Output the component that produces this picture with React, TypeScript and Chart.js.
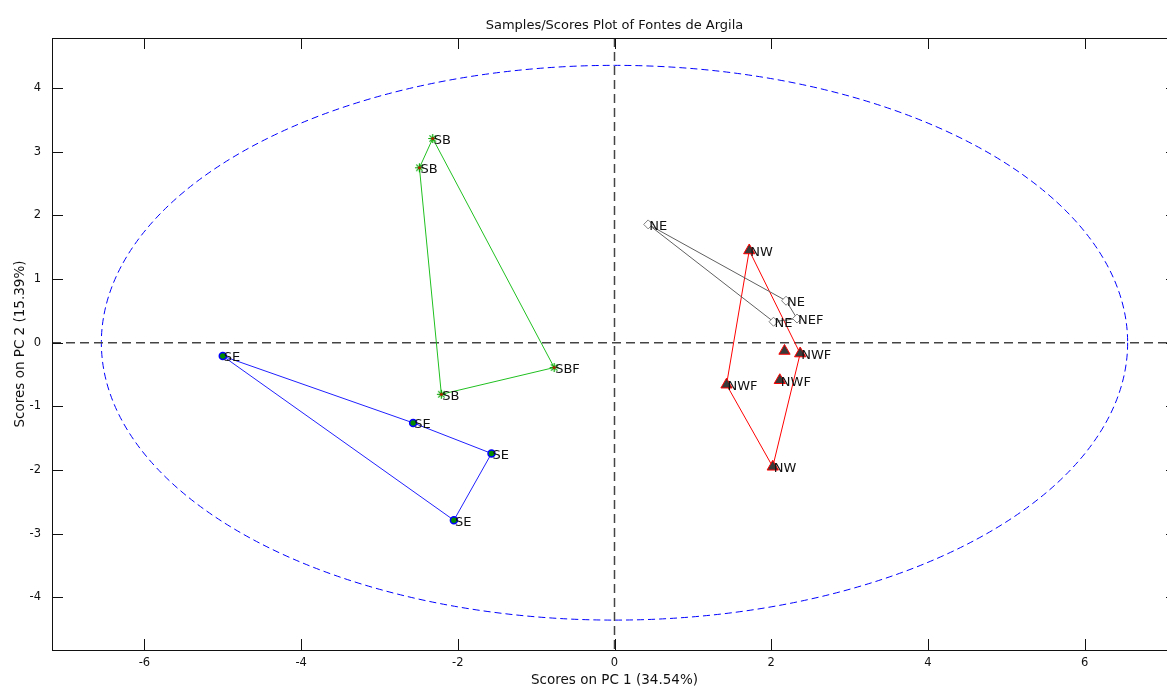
import React, { useEffect, useRef } from 'react';
import { Chart, registerables } from 'chart.js';

Chart.register(...registerables);

// Axis limits and ticks
const X_MIN = -7.18;
const X_MAX = 7.18;
const Y_MIN = -4.83;
const Y_MAX = 4.79;
const X_TICKS = [-6, -4, -2, 0, 2, 4, 6];
const Y_TICKS = [-4, -3, -2, -1, 0, 1, 2, 3, 4];

const TITLE = 'Samples/Scores Plot of Fontes de Argila';
const X_TITLE = 'Scores on PC 1 (34.54%)';
const Y_TITLE = 'Scores on PC 2 (15.39%)';

// Confidence ellipse (semi-axes in score units)
const ELLIPSE_A = 6.55;
const ELLIPSE_B = 4.36;

// SE group
const SE_X = [-5.0, -2.57, -1.57, -2.05];
const SE_Y = [-0.21, -1.26, -1.74, -2.79];
const SE_LABELS = ['SE', 'SE', 'SE', 'SE'];
const SE_HULL = [0, 1, 2, 3, 0];

// SB group
const SB_X = [-2.32, -2.49, -2.21, -0.77];
const SB_Y = [3.21, 2.75, -0.81, -0.39];
const SB_LABELS = ['SB', 'SB', 'SB', 'SBF'];
const SB_HULL = [0, 1, 2, 3, 0];

// NE group
const NE_X = [0.43, 2.19, 2.33, 2.03];
const NE_Y = [1.86, 0.66, 0.38, 0.33];
const NE_LABELS = ['NE', 'NE', 'NEF', 'NE'];
const NE_HULL = [0, 1, 2, 3, 0];

// NW group
const NW_X = [1.72, 2.37, 2.17, 2.11, 1.43, 2.02];
const NW_Y = [1.45, -0.17, -0.13, -0.59, -0.66, -1.95];
const NW_LABELS = ['NW', 'NWF', '', 'NWF', 'NWF', 'NW'];
const NW_HULL = [0, 1, 5, 4, 0];

const FONT = 'DejaVu Sans';
const VIEW_W = 1167;
const CANVAS_W = 1177;
const CANVAS_H = 690;

function pts(xs: number[], ys: number[]) {
  return xs.map((v, i) => ({ x: v, y: ys[i] }));
}
function hull(xs: number[], ys: number[], order: number[]) {
  return order.map((i) => ({ x: xs[i], y: ys[i] }));
}

function makeStar(): HTMLCanvasElement {
  const c = document.createElement('canvas');
  c.width = 11;
  c.height = 11;
  const g = c.getContext('2d')!;
  g.strokeStyle = '#00a800';
  g.lineWidth = 1.2;
  const cx = 5.5;
  const r = 4.5;
  g.beginPath();
  for (let k = 0; k < 4; k++) {
    const ang = (k * Math.PI) / 4;
    g.moveTo(cx - Math.cos(ang) * r, cx - Math.sin(ang) * r);
    g.lineTo(cx + Math.cos(ang) * r, cx + Math.sin(ang) * r);
  }
  g.stroke();
  g.fillStyle = '#b02000';
  g.beginPath();
  g.arc(cx, cx, 1.6, 0, Math.PI * 2);
  g.fill();
  return c;
}

const decor = {
  id: 'decor',
  beforeDatasetsDraw(chart: any) {
    const { ctx, chartArea: a, scales } = chart;
    const x = scales.x;
    const y = scales.y;
    ctx.save();
    ctx.beginPath();
    ctx.rect(a.left, a.top, a.right - a.left, a.bottom - a.top);
    ctx.clip();
    const cx = x.getPixelForValue(0);
    const cy = y.getPixelForValue(0);
    const rx = Math.abs(x.getPixelForValue(ELLIPSE_A) - cx);
    const ry = Math.abs(y.getPixelForValue(ELLIPSE_B) - cy);
    ctx.setLineDash([7, 4]);
    ctx.strokeStyle = '#0000ff';
    ctx.lineWidth = 1;
    ctx.beginPath();
    ctx.ellipse(cx, cy, rx, ry, 0, 0, Math.PI * 2);
    ctx.stroke();
    ctx.setLineDash([9, 5]);
    ctx.strokeStyle = '#444444';
    ctx.lineWidth = 1.5;
    ctx.beginPath();
    ctx.moveTo(cx, a.top);
    ctx.lineTo(cx, a.bottom);
    ctx.moveTo(a.left, cy);
    ctx.lineTo(a.right, cy);
    ctx.stroke();
    ctx.restore();
  },
  afterDatasetsDraw(chart: any) {
    const { ctx } = chart;
    ctx.save();
    ctx.font = `13px "${FONT}"`;
    ctx.fillStyle = '#111111';
    ctx.textAlign = 'left';
    ctx.textBaseline = 'middle';
    chart.data.datasets.forEach((ds: any, di: number) => {
      if (!ds.pointLabels) return;
      const meta = chart.getDatasetMeta(di);
      meta.data.forEach((el: any, i: number) => {
        const t = ds.pointLabels[i];
        if (t) ctx.fillText(t, el.x + 1, el.y + 2);
      });
    });
    ctx.restore();
  },
  afterDraw(chart: any) {
    const { ctx, chartArea: a, scales } = chart;
    const x = scales.x;
    const y = scales.y;
    ctx.save();
    ctx.strokeStyle = '#111111';
    ctx.lineWidth = 1;
    ctx.setLineDash([]);
    ctx.strokeRect(a.left + 0.5, a.top + 0.5, a.right - a.left, a.bottom - a.top);
    const L = 11;
    ctx.beginPath();
    X_TICKS.forEach((v) => {
      const px = Math.round(x.getPixelForValue(v)) + 0.5;
      ctx.moveTo(px, a.bottom);
      ctx.lineTo(px, a.bottom - L);
      ctx.moveTo(px, a.top);
      ctx.lineTo(px, a.top + L);
    });
    Y_TICKS.forEach((v) => {
      const py = Math.round(y.getPixelForValue(v)) + 0.5;
      ctx.moveTo(a.left, py);
      ctx.lineTo(a.left + L, py);
      ctx.moveTo(a.right, py);
      ctx.lineTo(a.right - L, py);
    });
    ctx.stroke();
    ctx.restore();
  },
};

export default function App() {
  const ref = useRef<HTMLCanvasElement | null>(null);

  useEffect(() => {
    document.body.style.overflow = 'hidden';
    const canvas = ref.current;
    if (!canvas) return;
    const star = makeStar();
    const chart = new Chart(canvas, {
      type: 'scatter',
      data: {
        datasets: [
          {
            label: 'SE',
            data: pts(SE_X, SE_Y),
            pointLabels: SE_LABELS,
            pointStyle: 'circle',
            pointRadius: 3.5,
            pointBackgroundColor: '#008a00',
            pointBorderColor: '#0000ff',
            pointBorderWidth: 1.5,
            showLine: false,
            order: 0,
          } as any,
          {
            label: 'SB',
            data: pts(SB_X, SB_Y),
            pointLabels: SB_LABELS,
            pointStyle: star,
            pointRadius: 5,
            showLine: false,
            order: 0,
          } as any,
          {
            label: 'NE',
            data: pts(NE_X, NE_Y),
            pointLabels: NE_LABELS,
            pointStyle: 'rectRot',
            pointRadius: 4.5,
            pointBackgroundColor: '#ffffff',
            pointBorderColor: '#808080',
            pointBorderWidth: 1,
            showLine: false,
            order: 0,
          } as any,
          {
            label: 'NW',
            data: pts(NW_X, NW_Y),
            pointLabels: NW_LABELS,
            pointStyle: 'triangle',
            pointRadius: 6.5,
            pointBackgroundColor: '#3a3a3a',
            pointBorderColor: '#ff0000',
            pointBorderWidth: 1,
            showLine: false,
            order: 0,
          } as any,
          {
            label: 'SE hull',
            data: hull(SE_X, SE_Y, SE_HULL),
            showLine: true,
            borderColor: '#2020ff',
            borderWidth: 1,
            pointRadius: 0,
            order: 1,
          },
          {
            label: 'SB hull',
            data: hull(SB_X, SB_Y, SB_HULL),
            showLine: true,
            borderColor: '#20c020',
            borderWidth: 1,
            pointRadius: 0,
            order: 1,
          },
          {
            label: 'NE hull',
            data: hull(NE_X, NE_Y, NE_HULL),
            showLine: true,
            borderColor: '#606060',
            borderWidth: 1,
            pointRadius: 0,
            order: 1,
          },
          {
            label: 'NW hull',
            data: hull(NW_X, NW_Y, NW_HULL),
            showLine: true,
            borderColor: '#ff0000',
            borderWidth: 1,
            pointRadius: 0,
            order: 1,
          },
        ],
      },
      options: {
        animation: false,
        responsive: false,
        devicePixelRatio: 1,
        layout: { padding: 0, autoPadding: false },
        plugins: {
          legend: { display: false },
          tooltip: { enabled: false },
          title: {
            display: true,
            text: TITLE,
            fullSize: false,
            color: '#111111',
            font: { family: FONT, size: 13, weight: 'normal' },
            padding: { top: 18, bottom: 4.4 },
          },
        },
        scales: {
          x: {
            type: 'linear',
            min: X_MIN,
            max: X_MAX,
            afterBuildTicks: (s: any) => {
              s.ticks = X_TICKS.map((v) => ({ value: v }));
            },
            afterFit: (s: any) => {
              s.height = 40;
              s.paddingLeft = 0;
              s.paddingRight = 0;
            },
            grid: { display: false, drawTicks: false },
            border: { display: false },
            ticks: {
              padding: 6,
              color: '#111111',
              font: { family: FONT, size: 11.5 },
              callback: (v: any) => String(v),
              maxRotation: 0,
            },
            title: {
              display: true,
              text: X_TITLE,
              color: '#111111',
              font: { family: FONT, size: 13.5 },
              padding: { top: 0, bottom: 1 },
            },
          },
          y: {
            type: 'linear',
            min: Y_MIN,
            max: Y_MAX,
            afterBuildTicks: (s: any) => {
              s.ticks = Y_TICKS.map((v) => ({ value: v }));
            },
            afterFit: (s: any) => {
              s.width = 52;
              s.paddingTop = 0;
              s.paddingBottom = 0;
            },
            grid: { display: false, drawTicks: false },
            border: { display: false },
            ticks: {
              padding: 11,
              color: '#111111',
              font: { family: FONT, size: 11.5 },
              callback: (v: any) => String(v),
            },
            title: {
              display: true,
              text: Y_TITLE,
              color: '#111111',
              font: { family: FONT, size: 13.5 },
              padding: { top: 12, bottom: 0 },
            },
          },
        },
      },
      plugins: [decor],
    } as any);
    return () => chart.destroy();
  }, []);

  return (
    <div
      style={{
        position: 'fixed',
        left: 0,
        top: 0,
        width: VIEW_W,
        height: CANVAS_H,
        background: '#ffffff',
        overflow: 'hidden',
      }}
    >
      <canvas
        ref={ref}
        width={CANVAS_W}
        height={CANVAS_H}
        style={{ display: 'block', width: CANVAS_W, height: CANVAS_H, maxWidth: 'none' }}
      />
    </div>
  );
}
